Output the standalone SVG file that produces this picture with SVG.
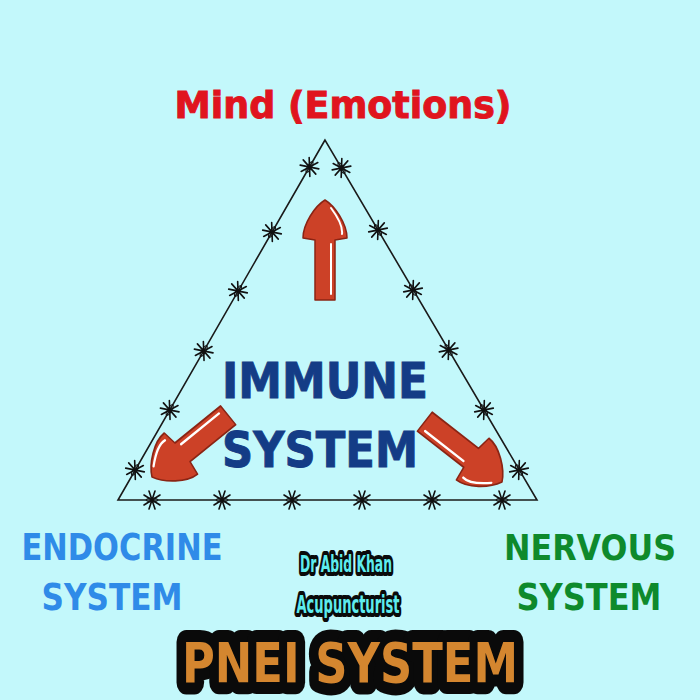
<svg xmlns="http://www.w3.org/2000/svg" width="700" height="700" viewBox="0 0 700 700">
<style>
.t{font-family:"DejaVu Sans","Liberation Sans",sans-serif;font-weight:bold;}
.wire{fill:none;stroke:#1a1a1a;stroke-width:1.6;}
.barb line{stroke:#111;stroke-width:1.6;stroke-linecap:round;}
.arrow{fill:#CC4127;stroke:#8A2414;stroke-width:1.5;stroke-linejoin:round;}
.hl{fill:none;stroke:#fff;stroke-width:2;stroke-linecap:round;}
.o{fill:#5EECEE;stroke:#0a0a0a;stroke-width:8;stroke-linejoin:round;paint-order:stroke;}
</style>
<defs>
<g id="barb" class="barb">
<line x1="-8" y1="-5" x2="8" y2="5"/>
<line x1="-8" y1="5" x2="8" y2="-5"/>
<line x1="-3" y1="-9" x2="3" y2="9"/>
<line x1="3" y1="-9" x2="-3" y2="9"/>
<ellipse cx="0" cy="0" rx="6" ry="2" fill="none" stroke="#111" stroke-width="1"/>
</g>
<g id="arrow">
<path class="arrow" d="M0,0 C10,6 22,24 22,38 L10,40 L10,100 L-10,100 L-10,40 L-22,38 C-22,24 -10,6 0,0 Z"/>
<path class="hl" d="M6,8 C12,16 18,26 17,34 M6,44 L6,94"/>
</g>
</defs>
<rect width="700" height="700" fill="#C3F8FB"/>
<g id="connectors">
<path class="wire" d="M325,140 L118,500 L537,500 Z"/>
<use href="#barb" transform="translate(309.5,167) rotate(-60)"/>
<use href="#barb" transform="translate(272,232) rotate(-60)"/>
<use href="#barb" transform="translate(238,291) rotate(-60)"/>
<use href="#barb" transform="translate(203.7,351) rotate(-60)"/>
<use href="#barb" transform="translate(169.7,410) rotate(-60)"/>
<use href="#barb" transform="translate(135,470) rotate(-60)"/>
<use href="#barb" transform="translate(341.5,168) rotate(60)"/>
<use href="#barb" transform="translate(378,230) rotate(60)"/>
<use href="#barb" transform="translate(413,290) rotate(60)"/>
<use href="#barb" transform="translate(448.6,350) rotate(60)"/>
<use href="#barb" transform="translate(484,410) rotate(60)"/>
<use href="#barb" transform="translate(519,470) rotate(60)"/>
<use href="#barb" transform="translate(152,500)"/>
<use href="#barb" transform="translate(222,500)"/>
<use href="#barb" transform="translate(292,500)"/>
<use href="#barb" transform="translate(362,500)"/>
<use href="#barb" transform="translate(432,500)"/>
<use href="#barb" transform="translate(502,500)"/>
<use href="#arrow" transform="translate(325,200)"/>
<use href="#arrow" transform="translate(152,477) rotate(-129) scale(1.2,0.98)"/>
<use href="#arrow" transform="translate(502,482) rotate(128) scale(1.2,0.98)"/>
</g>
<g id="mind"><text class="t" x="343" y="118" font-size="38" fill="#E0141E" stroke="#E0141E" stroke-width="1" text-anchor="middle" textLength="337" lengthAdjust="spacingAndGlyphs">Mind (Emotions)</text></g>
<g id="immune">
<text class="t" x="325" y="398" font-size="50" fill="#143C86" stroke="#143C86" stroke-width="1" text-anchor="middle" textLength="206" lengthAdjust="spacingAndGlyphs">IMMUNE</text>
<text class="t" x="320" y="467" font-size="50" fill="#143C86" stroke="#143C86" stroke-width="1" text-anchor="middle" textLength="196" lengthAdjust="spacingAndGlyphs">SYSTEM</text>
</g>
<g id="endocrine">
<text class="t" x="122" y="560" font-size="37" fill="#2F8BE8" text-anchor="middle" textLength="201" lengthAdjust="spacingAndGlyphs">ENDOCRINE</text>
<text class="t" x="112" y="610" font-size="37" fill="#2F8BE8" text-anchor="middle" textLength="141" lengthAdjust="spacingAndGlyphs">SYSTEM</text>
</g>
<g id="nervous">
<text class="t" x="590" y="560" font-size="36" fill="#0E8A2C" text-anchor="middle" textLength="172" lengthAdjust="spacingAndGlyphs">NERVOUS</text>
<text class="t" x="589" y="610" font-size="37" fill="#0E8A2C" text-anchor="middle" textLength="145" lengthAdjust="spacingAndGlyphs">SYSTEM</text>
</g>
<g id="author">
<text class="t o" x="346" y="572" font-size="23" text-anchor="middle" textLength="92" lengthAdjust="spacingAndGlyphs">Dr Abid Khan</text>
<text class="t o" x="348" y="613" font-size="24" text-anchor="middle" textLength="103" lengthAdjust="spacingAndGlyphs">Acupuncturist</text>
</g>
<g id="pnei">
<text class="t" x="350" y="682" font-size="56" fill="#D4862F" stroke="#0a0a0a" stroke-width="24" stroke-linejoin="round" paint-order="stroke" text-anchor="middle" textLength="336" lengthAdjust="spacingAndGlyphs">PNEI SYSTEM</text>
</g>
</svg>
